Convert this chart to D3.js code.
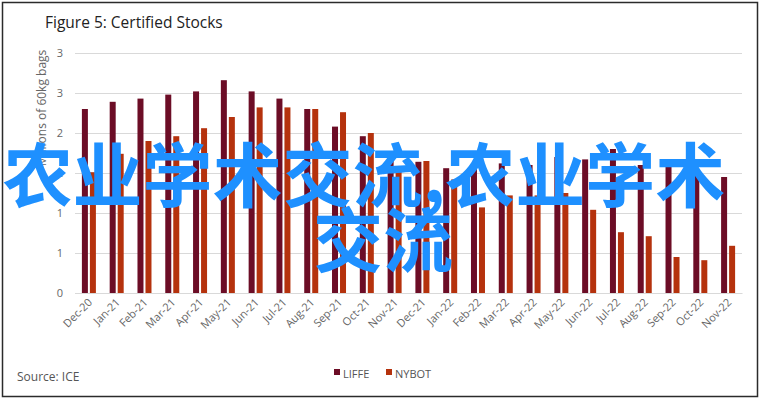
<!DOCTYPE html>
<html>
<head>
<meta charset="utf-8">
<script src="https://cdn.jsdelivr.net/npm/d3@7"></script>
<style>
body { margin: 0; background: #fff; }
svg { display: block; }
</style>
</head>
<body>
<div id="chart"></div>
<script>
// Figure 5: Certified Stocks (millions of 60kg bags)
var months = ["Dec-20","Jan-21","Feb-21","Mar-21","Apr-21","May-21","Jun-21","Jul-21","Aug-21","Sep-21","Oct-21","Nov-21",
  "Dec-21","Jan-22","Feb-22","Mar-22","Apr-22","May-22","Jun-22","Jul-22","Aug-22","Sep-22","Oct-22","Nov-22"];
var liffe = [2.30,2.39,2.43,2.48,2.52,2.66,2.52,2.43,2.30,2.08,1.96,1.72,1.64,1.56,1.55,1.62,1.60,1.70,1.67,1.80,1.60,1.59,1.52,1.45];
var nybot = [1.51,1.74,1.90,1.96,2.06,2.20,2.32,2.32,2.30,2.26,2.00,1.58,1.65,1.42,1.07,1.22,1.22,1.25,1.04,0.76,0.71,0.45,0.41,0.59];
var yTicks = [0,0.5,1,1.5,2,2.5,3];
var seriesNames = ["LIFFE","NYBOT"];
var colors = {"LIFFE":"#6c0d26","NYBOT":"#b5320d"};

var W = 760, H = 399;
var margin = {top: 53, right: 18, bottom: 106, left: 75};
var width = W - margin.left - margin.right,
    height = H - margin.top - margin.bottom;

var svg = d3.select("#chart").append("svg")
  .attr("width", W).attr("height", H);

svg.append("rect")
  .attr("x", 2.5).attr("y", 2.5).attr("width", W - 5).attr("height", H - 5)
  .attr("fill", "#fff").attr("stroke", "#2b2b2b").attr("stroke-width", 1.5);

svg.append("text")
  .attr("x", 45).attr("y", 28)
  .attr("font-family", "Open Sans, sans-serif").attr("font-size", 15.5)
  .attr("fill", "#222")
  .text("Figure 5: Certified Stocks");

var g = svg.append("g")
  .attr("transform", "translate(" + margin.left + "," + margin.top + ")");

var x = d3.scaleBand().domain(months).range([0, width]);
var y = d3.scaleLinear().domain([0, 3]).range([height, 0]);
var xs = d3.scaleBand().domain(seriesNames).range([x.bandwidth()/2 - 7, x.bandwidth()/2 + 7]).paddingInner(0.25);

// gridlines
g.append("g")
  .selectAll("line").data(yTicks).enter().append("line")
  .attr("x1", 0).attr("x2", width)
  .attr("y1", function(d) { return Math.round(y(d)) + 0.5; })
  .attr("y2", function(d) { return Math.round(y(d)) + 0.5; })
  .attr("stroke", "#d9d9d9").attr("stroke-width", 1);

// y axis labels
var yAxis = g.append("g")
  .call(d3.axisLeft(y).tickValues(yTicks).tickSize(0).tickPadding(12).tickFormat(d3.format(".0f")));
yAxis.select(".domain").remove();
yAxis.selectAll("text")
  .attr("font-family", "Open Sans, sans-serif").attr("font-size", 11).attr("fill", "#666");
// keep excel-like rounding (0.5 -> 1, 2.5 -> 3)
yAxis.selectAll("text").text(function(d) { return Math.floor(d + 0.5); });

svg.append("text")
  .attr("transform", "translate(46,108) rotate(-90)")
  .attr("text-anchor", "middle")
  .attr("font-family", "Open Sans, sans-serif").attr("font-size", 12)
  .attr("fill", "#666")
  .text("Millions of 60kg bags");

// bars
var rows = months.map(function(m, i) { return {month: m, LIFFE: liffe[i], NYBOT: nybot[i]}; });
var grp = g.selectAll(".month").data(rows).enter().append("g")
  .attr("transform", function(d) { return "translate(" + x(d.month) + ",0)"; });
grp.selectAll("rect")
  .data(function(d) { return seriesNames.map(function(s) { return {s: s, v: d[s]}; }); })
  .enter().append("rect")
  .attr("x", function(d) { return xs(d.s); })
  .attr("width", xs.bandwidth())
  .attr("y", function(d) { return y(d.v); })
  .attr("height", function(d) { return height - y(d.v); })
  .attr("fill", function(d) { return colors[d.s]; });

// x axis
var xAxis = g.append("g")
  .attr("transform", "translate(0," + height + ")")
  .call(d3.axisBottom(x).tickSize(0).tickPadding(0));
xAxis.select(".domain").attr("stroke", "#d9d9d9");
xAxis.selectAll("text")
  .attr("font-family", "Open Sans, sans-serif").attr("font-size", 11).attr("fill", "#666")
  .attr("text-anchor", "end")
  .attr("dy", null).attr("y", 0)
  .attr("transform", "translate(4,10) rotate(-45)");

// legend
var legend = svg.append("g").attr("transform", "translate(334,374)");
var li = legend.selectAll("g").data(seriesNames).enter().append("g")
  .attr("transform", function(d, i) { return "translate(" + (i * 52) + ",0)"; });
li.append("rect").attr("x", 0).attr("y", -5).attr("width", 6).attr("height", 6)
  .attr("fill", function(d) { return colors[d]; });
li.append("text").attr("x", 9).attr("y", 0).attr("dy", "0.35em")
  .attr("font-family", "Open Sans, sans-serif").attr("font-size", 11).attr("fill", "#555")
  .text(function(d) { return d; });

svg.append("text")
  .attr("x", 17).attr("y", 381)
  .attr("font-family", "Open Sans, sans-serif").attr("font-size", 12).attr("fill", "#555")
  .text("Source: ICE");

// watermark overlay
var wm = svg.append("text")
  .attr("font-family", "Noto Sans CJK SC, sans-serif").attr("font-size", 70)
  .attr("font-weight", "bold").attr("fill", "#1e90ff")
  .attr("text-anchor", "middle");
wm.append("tspan").attr("x", 364).attr("y", 202).text("农业学术交流,农业学术");
wm.append("tspan").attr("x", 383).attr("y", 267).text("交流");
</script>
</body>
</html>
